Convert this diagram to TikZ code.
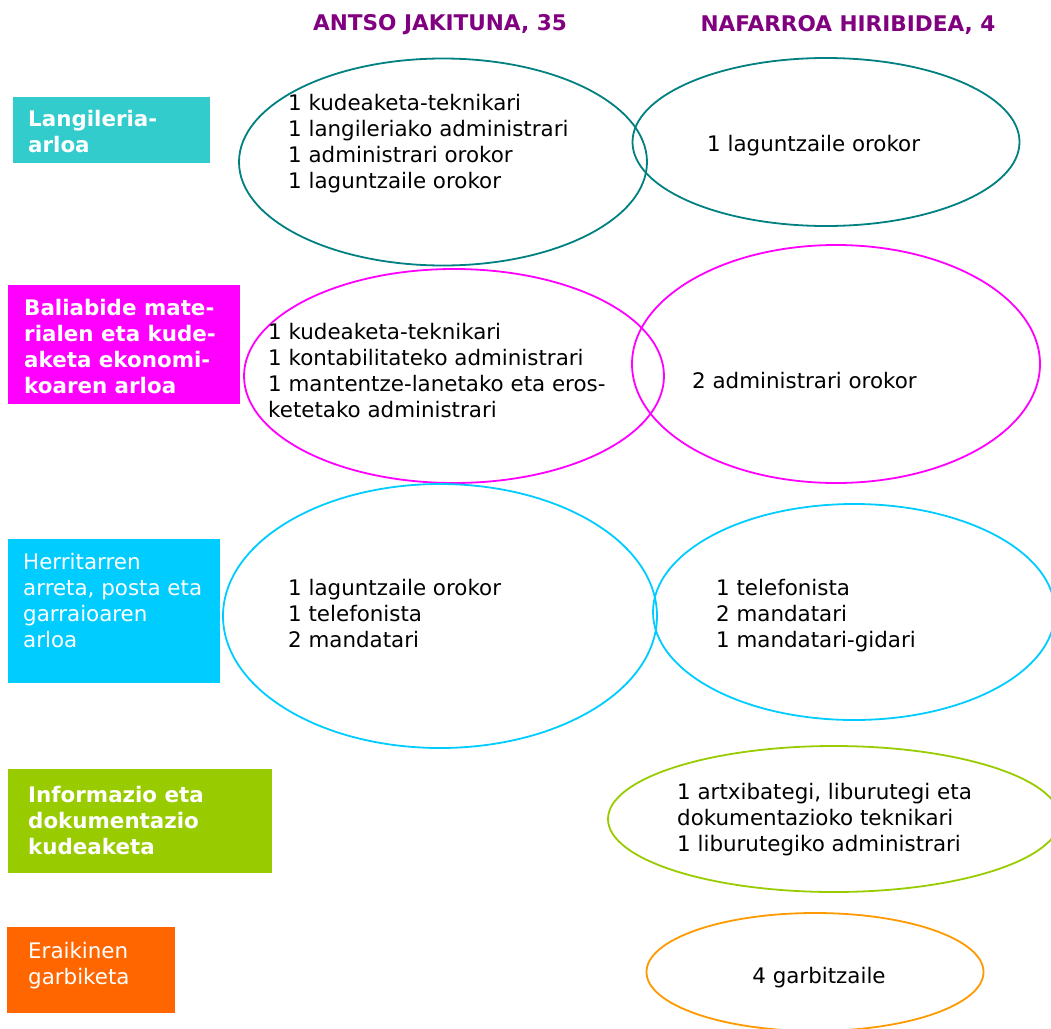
\documentclass[tikz,border=0pt]{standalone}
\usepackage{fontspec}
\setmainfont{DejaVu Sans}
\usepackage{tikz}
\usetikzlibrary{shapes.geometric}
\definecolor{headPurple}{RGB}{128, 0, 128}
\definecolor{staffTeal}{RGB}{51, 204, 204}
\definecolor{ringTeal}{RGB}{0, 128, 128}
\definecolor{staffMagenta}{RGB}{255, 0, 255}
\definecolor{staffCyan}{RGB}{0, 204, 255}
\definecolor{staffGreen}{RGB}{153, 204, 0}
\definecolor{staffOrange}{RGB}{255, 102, 0}
\definecolor{ringOrange}{RGB}{255, 153, 0}
\tikzset{
  areaBox/.style={
    rectangle,
    draw=none,
    inner sep=0pt,
    anchor=north west
  },
  areaText/.style={
    anchor=west,
    align=left,
    inner sep=0pt,
    text=white,
    font=\fontsize{21.4}{26}\selectfont
  },
  staffRing/.style={
    ellipse,
    line width=1.8pt,
    inner sep=0pt
  },
  staffText/.style={
    anchor=west,
    align=left,
    inner sep=0pt,
    text=black,
    font=\fontsize{21.4}{26}\selectfont
  },
  headText/.style={
    inner sep=0pt,
    text=headPurple,
    font=\fontsize{21.6}{24}\selectfont\bfseries
  }
}
\begin{document}
\begin{tikzpicture}[x=1pt, y=-1pt]
  \useasboundingbox (0,0) rectangle (1051,1028);
  % Headers
  \node[headText] (antso) at (440,25) {ANTSO JAKITUNA, 35};
  \node[headText] (nafarroa) at (848,25) {NAFARROA HIRIBIDEA, 4};
  % Area boxes
  \node[areaBox, fill=staffTeal, minimum width=197pt, minimum height=66pt] (langBox) at (13,97) {};
  \node[areaText, font=\fontsize{21.4}{26}\selectfont\bfseries] (langText) at (28,132) {Langileria-\\arloa};
  \node[areaBox, fill=staffMagenta, minimum width=232pt, minimum height=119pt] (baliBox) at (8,285) {};
  \node[areaText, font=\fontsize{21.4}{26}\selectfont\bfseries] (baliText) at (24,347) {Baliabide mate-\\rialen eta kude-\\aketa ekonomi-\\koaren arloa};
  \node[areaBox, fill=staffCyan, minimum width=212pt, minimum height=144pt] (herriBox) at (8,539) {};
  \node[areaText] (herriText) at (23,601) {Herritarren\\arreta, posta eta\\garraioaren\\arloa};
  \node[areaBox, fill=staffGreen, minimum width=264pt, minimum height=104pt] (infoBox) at (8,769) {};
  \node[areaText, font=\fontsize{21.4}{26}\selectfont\bfseries] (infoText) at (28,821) {Informazio eta\\dokumentazio\\kudeaketa};
  \node[areaBox, fill=staffOrange, minimum width=168pt, minimum height=86pt] (garbiBox) at (7,927) {};
  \node[areaText] (garbiText) at (28,966) {Eraikinen\\garbiketa};
  % Row 1: Langileria
  \node[staffRing, draw=ringTeal, minimum width=408pt, minimum height=207pt] (langA) at (443,162) {};
  \node[staffRing, draw=ringTeal, minimum width=387pt, minimum height=168pt] (langN) at (826,142) {};
  \node[staffText] (langAText) at (288,144) {1 kudeaketa-teknikari\\1 langileriako administrari\\1 administrari orokor\\1 laguntzaile orokor};
  \node[staffText] (langNText) at (707,146) {1 laguntzaile orokor};
  % Row 2: Baliabide materialak
  \node[staffRing, draw=staffMagenta, minimum width=420pt, minimum height=214pt] (baliA) at (454,376) {};
  \node[staffRing, draw=staffMagenta, minimum width=408pt, minimum height=238pt] (baliN) at (836,364) {};
  \node[staffText] (baliAText) at (268,371) {1 kudeaketa-teknikari\\1 kontabilitateko administrari\\1 mantentze-lanetako eta eros-\\ketetako administrari};
  \node[staffText] (baliNText) at (692,381) {2 administrari orokor};
  % Row 3: Herritarren arreta
  \node[staffRing, draw=staffCyan, minimum width=434pt, minimum height=264pt] (herriA) at (440,616) {};
  \node[staffRing, draw=staffCyan, minimum width=402pt, minimum height=216pt] (herriN) at (854,612) {};
  \node[staffText] (herriAText) at (288,614) {1 laguntzaile orokor\\1 telefonista\\2 mandatari};
  \node[staffText] (herriNText) at (716,616) {1 telefonista\\2 mandatari\\1 mandatari-gidari};
  % Row 4: Informazioa
  \node[staffRing, draw=staffGreen, minimum width=452pt, minimum height=146pt] (infoN) at (834,819) {};
  \node[staffText] (infoNText) at (677,820) {1 artxibategi, liburutegi eta\\dokumentazioko teknikari\\1 liburutegiko administrari};
  % Row 5: Garbiketa
  \node[staffRing, draw=ringOrange, minimum width=337pt, minimum height=118pt] (garbiN) at (815,972) {};
  \node[staffText, anchor=center] (garbiNText) at (819,978) {4 garbitzaile};
\end{tikzpicture}
\end{document}
